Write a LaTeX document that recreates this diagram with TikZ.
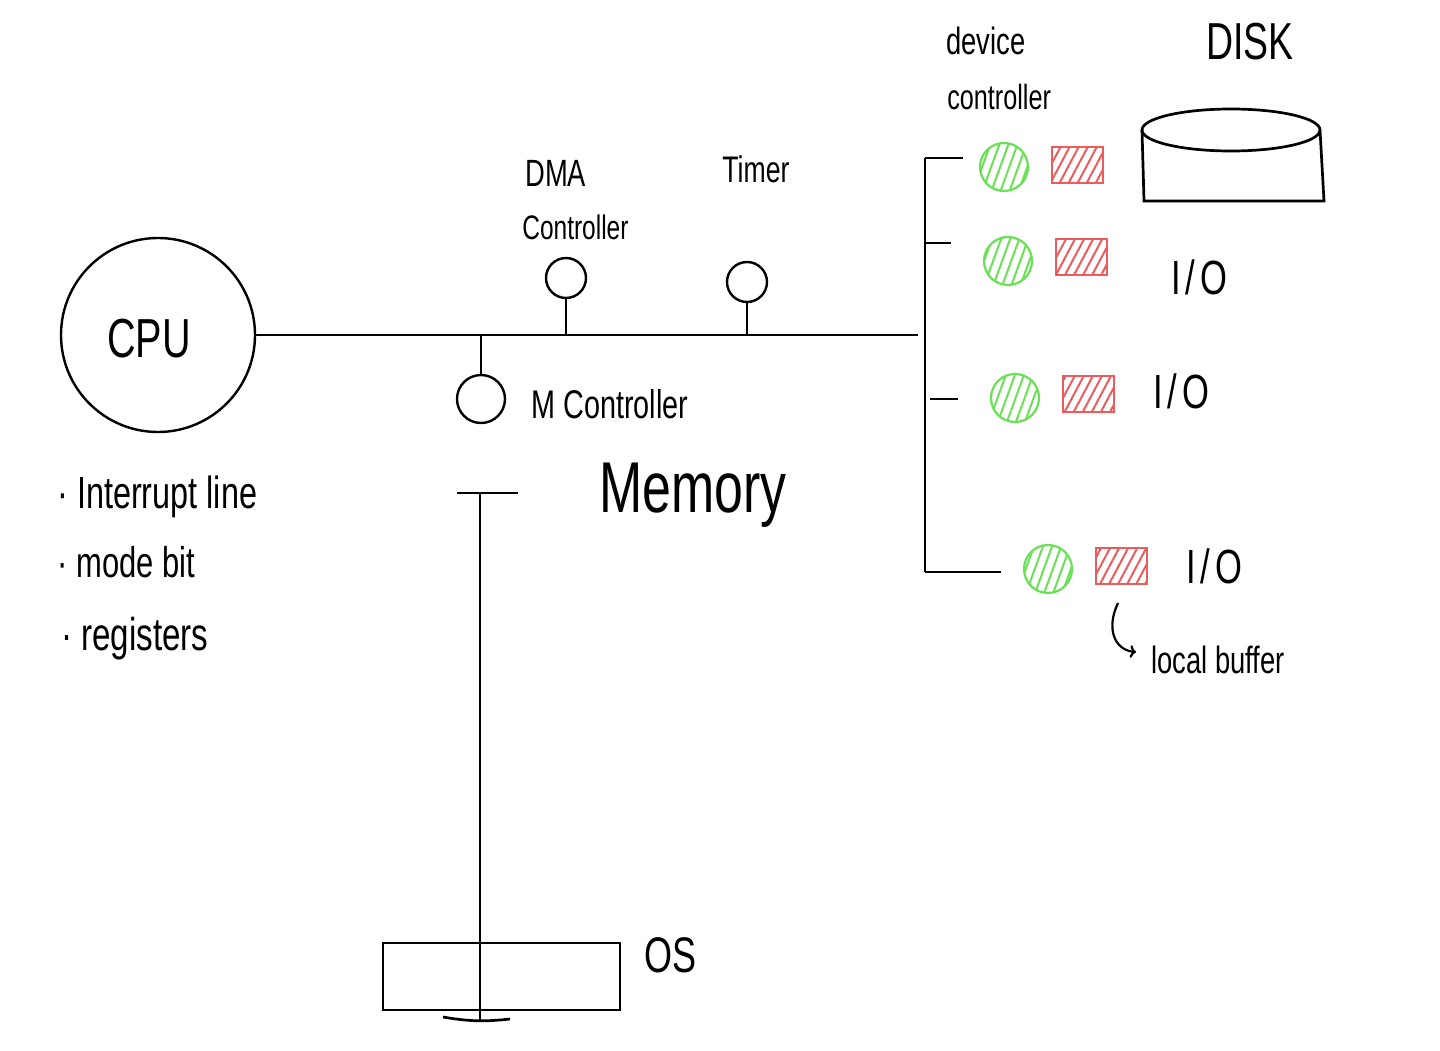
\documentclass[tikz,border=0pt]{standalone}
\usepackage{fontspec}
\newfontfamily\handfont[FakeStretch=0.72]{Liberation Sans}
\usetikzlibrary{arrows.meta,patterns.meta}
\definecolor{ledgreen}{RGB}{105,225,85}
\definecolor{bufred}{RGB}{236,92,92}
\newcommand{\iolbl}{I\hspace{5pt}/\hspace{5pt}O}
\tikzset{
  hand/.style={inner sep=0pt,anchor=base west,font=\handfont\fontsize{#1}{#1}\selectfont},
  hand/.default=42,
  dot/.style={draw,circle,line width=2.4pt,inner sep=0pt,minimum size=#1},
  ctlnode/.style={circle,draw=ledgreen,line width=2.2pt,minimum size=48pt,inner sep=0pt,
    pattern={Lines[angle=70,distance=8.5pt,line width=2pt]},pattern color=ledgreen},
  bufnode/.style={rectangle,draw=bufred,line width=2pt,minimum width=51pt,minimum height=36pt,inner sep=0pt,
    pattern={Lines[angle=62,distance=8pt,line width=2pt]},pattern color=bufred},
}
\begin{document}
\begin{tikzpicture}[x=1pt,y=-1pt,line width=2.7pt,>={To[length=6pt]}]
  \useasboundingbox (0,0) rectangle (1440,1051);

  % CPU and its notes
  \node[dot=194pt] (cpu) at (158,335) {};
  \node[hand=55] (cpulbl) at (106,357) {CPU};
  \node[hand=45] (note1) at (56,508) {· Interrupt line};
  \node[hand=43] (note2) at (56,577) {· mode bit};
  \node[hand=46] (note3) at (60,650) {· registers};

  % System bus
  \coordinate (busR) at (918,335);
  \draw (cpu.east) -- (busR);

  % DMA controller and timer on the bus
  \node[dot=40pt] (dma) at (566,278) {};
  \draw (dma.south) -- (dma.south |- busR);
  \node[hand=38] (dmalbl) at (524,187) {DMA};
  \node[hand=34] (dmalbl2) at (521,240) {Controller};
  \node[dot=40pt] (timer) at (747,282) {};
  \draw (timer.south) -- (timer.south |- busR);
  \node[hand=37] (timerlbl) at (721,183) {Timer};

  % Memory controller and memory
  \node[dot=48pt] (mctl) at (481,399) {};
  \draw (mctl.north) -- (mctl.north |- busR);
  \node[hand=40] (mctllbl) at (530,418) {M Controller};
  \node[hand=72] (memlbl) at (598,512) {Memory};
  \coordinate (memL) at (457,493);
  \coordinate (memR) at (518,493);
  \coordinate (memTop) at (480,493);
  \coordinate (memBot) at (480,1020);
  \draw (memL) -- (memR);
  \draw (memTop) -- (memBot);
  \node[draw,line width=2.4pt,minimum width=237pt,minimum height=67pt,inner sep=0pt] (os) at (501.5,976.5) {};
  \node[hand=50] (oslbl) at (643,972) {OS};
  \coordinate (osL) at (443,1017);
  \coordinate (osR) at (510,1019);
  \draw (osL) to[bend right=8] (osR);

  % Device bus with controllers and local buffers
  \coordinate (devTop) at (925,158);
  \coordinate (devBot) at (925,572);
  \draw (devTop) -- (devBot);
  \foreach \i/\sx/\bx/\by/\cx/\cy/\rx/\ry in {1/925/963/158/1004/167/1077/165,
      2/925/951/243/1008/261/1081/257, 3/930/958/399/1015/398/1088/394,
      4/925/1001/572/1048/569/1121/566} {
    \coordinate (tapA\i) at (\sx,\by);
    \coordinate (tapB\i) at (\bx,\by);
    \draw (tapA\i) -- (tapB\i);
    \node[ctlnode] (ctl\i) at (\cx,\cy) {};
    \node[bufnode] (buf\i) at (\rx,\ry) {};
  }
  \node[hand=38] (devlbl) at (945,55) {device};
  \node[hand=35] (devlbl2) at (946,110) {controller};

  % Disk
  \draw (1142,130) -- (1144,201) -- (1324,201) -- (1320,130);
  \draw (1231,130) ellipse[x radius=89,y radius=21];
  \node[hand=52] (disklbl) at (1205,60) {DISK};

  % I/O devices
  \node[hand=48] (io2) at (1170,294) {\iolbl};
  \node[hand=48] (io3) at (1152,408) {\iolbl};
  \node[hand=48] (io4) at (1185,583) {\iolbl};

  % Local buffer note
  \node[hand=38] (buflbl) at (1150,673) {local buffer};
  \coordinate (hookS) at (1118,603);
  \coordinate (hookE) at (1136,652);
  \draw[->,line width=2.2pt] (hookS) .. controls (1106,628) and (1114,650) .. (hookE);
\end{tikzpicture}
\end{document}
